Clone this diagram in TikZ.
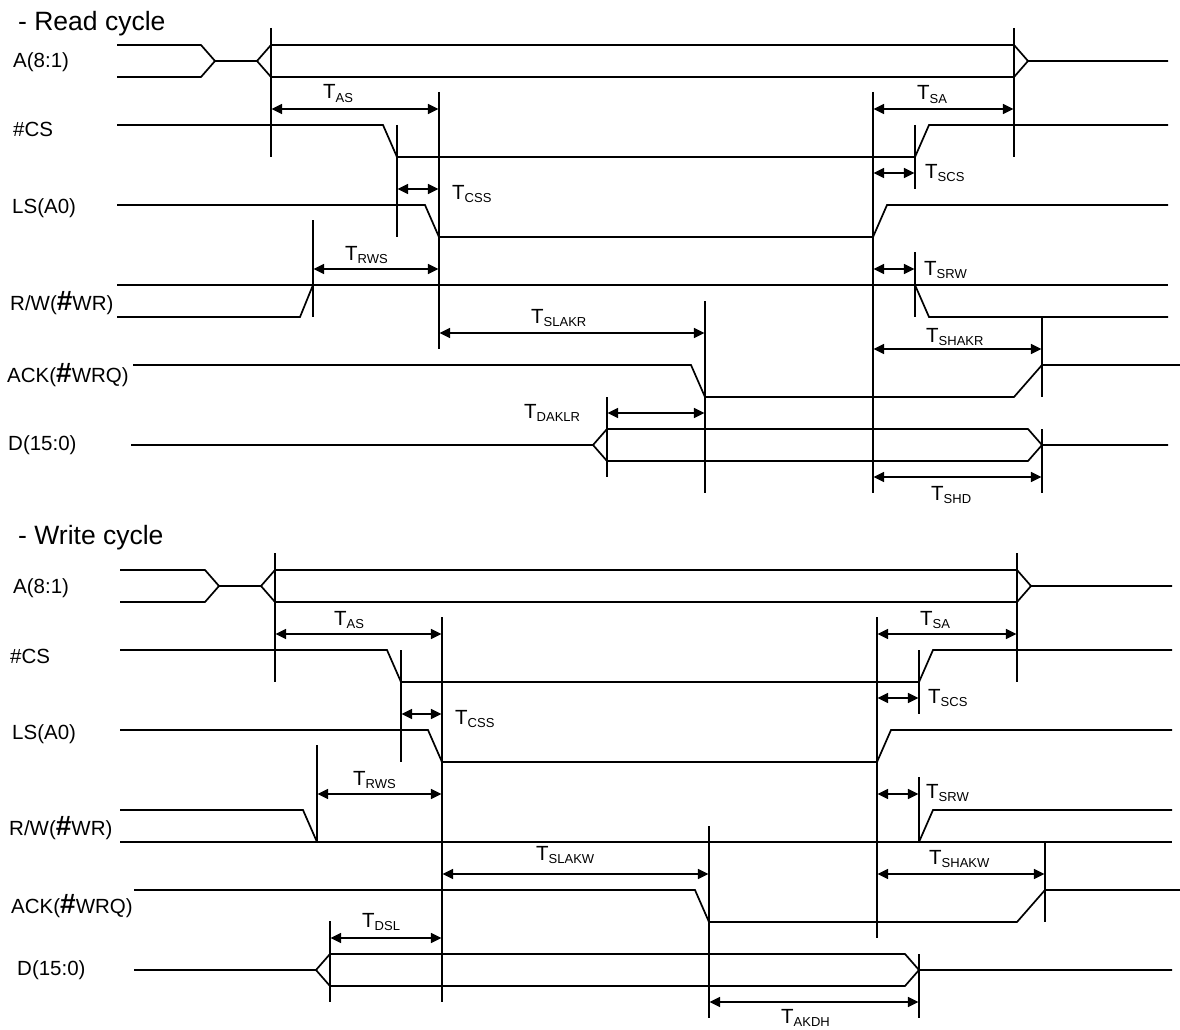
\documentclass[tikz,border=0pt]{standalone}
\usepackage{fontspec}
\setmainfont{Liberation Sans}
\usetikzlibrary{arrows.meta,positioning}
\newcommand{\tsub}[1]{T\raisebox{-0.32ex}{\fontsize{13}{13}\selectfont #1}}
\newcommand{\bighash}{{\fontsize{28}{28}\bfseries\selectfont\#}}

\begin{document}
\begin{tikzpicture}[
  x=1pt, y=-1pt,
  wave/.style={line width=1.7pt},
  guide/.style={line width=1.3pt},
  span/.style={{Triangle[length=10.5pt,width=10pt]}-{Triangle[length=10.5pt,width=10pt]}, line width=1.5pt, shorten <=0.6pt, shorten >=0.6pt},
  sig/.style={anchor=base west, inner sep=0pt, font=\fontsize{20.5}{20.5}\selectfont},
  cyc/.style={anchor=base west, inner sep=0pt, font=\fontsize{26.5}{26.5}\selectfont},
  tlab/.style={anchor=base west, inner sep=0pt, font=\fontsize{20.5}{20.5}\selectfont}
]
\useasboundingbox (0,0) rectangle (1180,1030);
% read cycle labels
\node[cyc] (rtitle) at (18,31)  {- Read cycle};
\node[sig] (raddr)  at (13,68)  {A(8:1)};
\node[sig] (rcs)    at (13,136) {\#CS};
\node[sig] (rls)    at (12,213) {LS(A0)};
\node[sig] (rrw)    at (10,310) {R/W(\bighash WR)};
\node[sig] (rack)   at (7,382)  {ACK(\bighash WRQ)};
\node[sig] (rdat)   at (8,450)  {D(15:0)};

% read cycle waves
\draw[wave] (117,45)--(201,45)--(215,61)--(257,61)--(271,45)--(1014,45)--(1028,61)--(1168,61);
\draw[wave] (117,77)--(201,77)--(215,61);
\draw[wave] (257,61)--(271,77)--(1014,77)--(1028,61);
\draw[wave] (117,125)--(383,125)--(397,157)--(915,157)--(929,125)--(1168,125);
\draw[wave] (117,205)--(425,205)--(439,237)--(873,237)--(887,205)--(1168,205);
\draw[wave] (117,285)--(1168,285);
\draw[wave] (117,317)--(300,317)--(313,285);
\draw[wave] (915,285)--(929,317)--(1168,317);
\draw[wave] (133,365)--(691,365)--(705,397)--(1014,397)--(1042,365)--(1180,365);
\draw[wave] (131,445)--(593,445)--(607,429)--(1028,429)--(1042,445)--(1168,445);
\draw[wave] (593,445)--(607,461)--(1028,461)--(1042,445);

% read cycle guides
\draw[guide] (271,28)--(271,157);
\draw[guide] (1014,28)--(1014,157);
\draw[guide] (439,92)--(439,349);
\draw[guide] (873,92)--(873,493);
\draw[guide] (397,125)--(397,237);
\draw[guide] (915,125)--(915,189);
\draw[guide] (313,220)--(313,317);
\draw[guide] (915,252)--(915,317);
\draw[guide] (705,301)--(705,493);
\draw[guide] (1042,317)--(1042,397);
\draw[guide] (607,397)--(607,477);
\draw[guide] (1042,429)--(1042,493);

% read cycle spans
\coordinate (ras1) at (271,109);  \coordinate (ras2) at (439,109);
\coordinate (rsa1) at (873,109);  \coordinate (rsa2) at (1014,109);
\coordinate (rcss1) at (397,189); \coordinate (rcss2) at (439,189);
\coordinate (rscs1) at (873,173); \coordinate (rscs2) at (915,173);
\coordinate (rrws1) at (313,269); \coordinate (rrws2) at (439,269);
\coordinate (rsrw1) at (873,269); \coordinate (rsrw2) at (915,269);
\coordinate (rslak1) at (439,333); \coordinate (rslak2) at (705,333);
\coordinate (rshak1) at (873,349); \coordinate (rshak2) at (1042,349);
\coordinate (rdak1) at (607,413); \coordinate (rdak2) at (705,413);
\coordinate (rshd1) at (873,477); \coordinate (rshd2) at (1042,477);
\draw[span] (ras1)--(ras2); \draw[span] (rsa1)--(rsa2);
\draw[span] (rcss1)--(rcss2); \draw[span] (rscs1)--(rscs2);
\draw[span] (rrws1)--(rrws2); \draw[span] (rsrw1)--(rsrw2);
\draw[span] (rslak1)--(rslak2); \draw[span] (rshak1)--(rshak2);
\draw[span] (rdak1)--(rdak2); \draw[span] (rshd1)--(rshd2);

\node[tlab] (rtas)  at (323,99)  {\tsub{AS}};
\node[tlab] (rtsa)  at (917,100) {\tsub{SA}};
\node[tlab] (rtcss) at (452,199) {\tsub{CSS}};
\node[tlab] (rtscs) at (925,178) {\tsub{SCS}};
\node[tlab] (rtrws) at (345,260) {\tsub{RWS}};
\node[tlab] (rtsrw) at (924,275) {\tsub{SRW}};
\node[tlab] (rtslak) at (531,323) {\tsub{SLAKR}};
\node[tlab] (rtshak) at (926,342) {\tsub{SHAKR}};
\node[tlab] (rtdak) at (524,418) {\tsub{DAKLR}};
\node[tlab] (rtshd) at (931,500) {\tsub{SHD}};

% write cycle labels
\node[cyc] (wtitle) at (18,544)  {- Write cycle};
\node[sig] (waddr)  at (13,593)  {A(8:1)};
\node[sig] (wcs)    at (10,663)  {\#CS};
\node[sig] (wls)    at (12,739)  {LS(A0)};
\node[sig] (wrw)    at (9,835)   {R/W(\bighash WR)};
\node[sig] (wack)   at (11,913)  {ACK(\bighash WRQ)};
\node[sig] (wdat)   at (17,975)  {D(15:0)};

% write cycle waves
\draw[wave] (120,570)--(205,570)--(219,586)--(261,586)--(275,570)--(1017,570)--(1031,586)--(1172,586);
\draw[wave] (120,602)--(205,602)--(219,586);
\draw[wave] (261,586)--(275,602)--(1017,602)--(1031,586);
\draw[wave] (120,650)--(387,650)--(401,682)--(919,682)--(933,650)--(1172,650);
\draw[wave] (120,730)--(428,730)--(442,762)--(877,762)--(891,730)--(1172,730);
\draw[wave] (120,810)--(303,810)--(317,842);
\draw[wave] (120,842)--(1172,842);
\draw[wave] (919,842)--(933,810)--(1172,810);
\draw[wave] (134,890)--(695,890)--(709,922)--(1017,922)--(1045,890)--(1180,890);
\draw[wave] (134,970)--(316,970)--(330,954)--(905,954)--(919,970)--(1172,970);
\draw[wave] (316,970)--(330,986)--(905,986)--(919,970);

% write cycle guides
\draw[guide] (275,553)--(275,682);
\draw[guide] (1017,553)--(1017,682);
\draw[guide] (442,617)--(442,1002);
\draw[guide] (877,617)--(877,938);
\draw[guide] (401,650)--(401,762);
\draw[guide] (919,650)--(919,714);
\draw[guide] (317,745)--(317,842);
\draw[guide] (919,777)--(919,842);
\draw[guide] (709,826)--(709,1018);
\draw[guide] (1045,842)--(1045,922);
\draw[guide] (330,921)--(330,1002);
\draw[guide] (919,954)--(919,1018);

% write cycle spans
\coordinate (was1) at (275,634);  \coordinate (was2) at (442,634);
\coordinate (wsa1) at (877,634);  \coordinate (wsa2) at (1017,634);
\coordinate (wcss1) at (401,714); \coordinate (wcss2) at (442,714);
\coordinate (wscs1) at (877,698); \coordinate (wscs2) at (919,698);
\coordinate (wrws1) at (317,794); \coordinate (wrws2) at (442,794);
\coordinate (wsrw1) at (877,794); \coordinate (wsrw2) at (919,794);
\coordinate (wslak1) at (442,874); \coordinate (wslak2) at (709,874);
\coordinate (wshak1) at (877,874); \coordinate (wshak2) at (1045,874);
\coordinate (wdsl1) at (330,938); \coordinate (wdsl2) at (442,938);
\coordinate (wakd1) at (709,1002); \coordinate (wakd2) at (919,1002);
\draw[span] (was1)--(was2); \draw[span] (wsa1)--(wsa2);
\draw[span] (wcss1)--(wcss2); \draw[span] (wscs1)--(wscs2);
\draw[span] (wrws1)--(wrws2); \draw[span] (wsrw1)--(wsrw2);
\draw[span] (wslak1)--(wslak2); \draw[span] (wshak1)--(wshak2);
\draw[span] (wdsl1)--(wdsl2); \draw[span] (wakd1)--(wakd2);

\node[tlab] (wtas)  at (334,625) {\tsub{AS}};
\node[tlab] (wtsa)  at (920,625) {\tsub{SA}};
\node[tlab] (wtcss) at (455,724) {\tsub{CSS}};
\node[tlab] (wtscs) at (928,703) {\tsub{SCS}};
\node[tlab] (wtrws) at (353,785) {\tsub{RWS}};
\node[tlab] (wtsrw) at (926,798) {\tsub{SRW}};
\node[tlab] (wtslak) at (536,860) {\tsub{SLAKW}};
\node[tlab] (wtshak) at (929,864) {\tsub{SHAKW}};
\node[tlab] (wtdsl) at (362,927) {\tsub{DSL}};
\node[tlab] (wtakd) at (781,1023) {\tsub{AKDH}};
\end{tikzpicture}
\end{document}
